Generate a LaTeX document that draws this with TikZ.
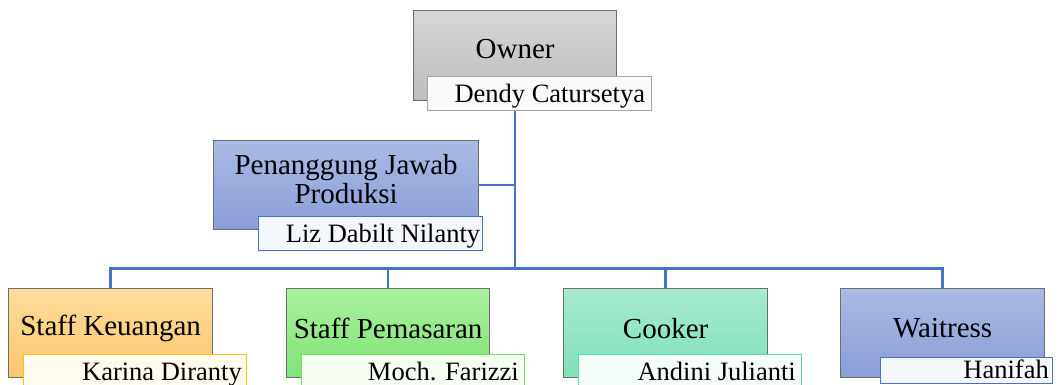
\documentclass[tikz,border=0pt]{standalone}
\usepackage{fontspec}
\setmainfont{Liberation Serif}
\usetikzlibrary{calc}
\definecolor{lineblue}{HTML}{4472C4}
\definecolor{boxborder}{HTML}{6E6E6E}
\definecolor{grayT}{HTML}{D6D6D6}\definecolor{grayB}{HTML}{BDBDBD}
\definecolor{blueT}{HTML}{ABBAE3}\definecolor{blueB}{HTML}{8A9ED8}
\definecolor{orT}{HTML}{FFDC9C}\definecolor{orB}{HTML}{FCC76C}
\definecolor{grT}{HTML}{A9F29E}\definecolor{grB}{HTML}{80E275}
\definecolor{tqT}{HTML}{A7EBCF}\definecolor{tqB}{HTML}{7FE0B8}
\definecolor{nmGray}{HTML}{A6A6A6}
\definecolor{nmOr}{HTML}{FFC20E}
\definecolor{nmGr}{HTML}{62E84E}
\definecolor{nmTq}{HTML}{55DCA4}
\tikzset{
  rolebox/.style={draw=boxborder, line width=1.3pt, rectangle, anchor=north west, inner sep=0pt},
  roletext/.style={font=\fontsize{29}{29}\selectfont, align=center, inner sep=0pt},
  namebox/.style={draw=#1, line width=1.3pt, fill=white!94!#1, rectangle, anchor=north west,
     inner sep=0pt, font=\fontsize{26.5}{28}\selectfont, text depth=0pt},
  nametext/.style={anchor=base east, inner sep=0pt, font=\fontsize{26.5}{28}\selectfont},
  conn/.style={draw=lineblue, line width=2.6pt}
}
\begin{document}
\begin{tikzpicture}[x=1pt,y=-1pt]
\useasboundingbox[fill=white] (0,0) rectangle (1058,385);
% role boxes
\node[rolebox, top color=grayT, bottom color=grayB, minimum width=203pt, minimum height=90pt] (owner) at (413,10) {};
\node[rolebox, top color=blueT, bottom color=blueB, minimum width=265pt, minimum height=89pt] (pj) at (213,140) {};
\node[rolebox, top color=orT, bottom color=orB, minimum width=204pt, minimum height=89pt] (keu) at (8,288) {};
\node[rolebox, top color=grT, bottom color=grB, minimum width=203pt, minimum height=89pt] (pem) at (286,288) {};
\node[rolebox, top color=tqT, bottom color=tqB, minimum width=204pt, minimum height=89pt] (cook) at (563,288) {};
\node[rolebox, top color=blueT, bottom color=blueB, minimum width=204pt, minimum height=89pt] (wait) at (840,288) {};
% role texts
\node[roletext] (ownerT) at ($(owner.center)+(0,-7)$) {Owner};
\node[roletext] (pjT) at ($(pj.center)+(0,-6)$) {Penanggung Jawab\\Produksi};
\node[roletext] (keuT) at ($(keu.center)+(0,-5)$) {Staff Keuangan};
\node[roletext] (pemT) at ($(pem.center)+(0,-5)$) {Staff Pemasaran};
\node[roletext] (cookT) at ($(cook.center)+(0,-5)$) {Cooker};
\node[roletext] (waitT) at ($(wait.center)+(0,-5)$) {Waitress};
% connectors
\coordinate (bus) at ($(owner.south)+(0,167)$);
\draw[conn] (owner.south) -- (bus);
\draw[conn] (pj.east) -- (pj.east -| owner.south);
\draw[conn] (keu.north) |- (bus);
\draw[conn] (pem.north) |- (bus);
\draw[conn] (cook.north) |- (bus);
\draw[conn] (wait.north) |- (bus);
% name boxes
\node[namebox=nmGray, minimum width=224pt, minimum height=34pt] (ownerN) at (427,76) {};
\node[namebox=lineblue, minimum width=224pt, minimum height=34pt] (pjN) at (258,216) {};
\node[namebox=nmOr, minimum width=223pt, minimum height=36pt] (keuN) at (23,354) {};
\node[namebox=nmGr, minimum width=223pt, minimum height=36pt] (pemN) at (301,354) {};
\node[namebox=nmTq, minimum width=223pt, minimum height=36pt] (cookN) at (578,354) {};
\node[namebox=lineblue, minimum width=172pt, minimum height=26pt] (waitN) at (880,357) {};
% name texts
\node[nametext] (ownerNT) at ($(ownerN.east)+(-7,9)$) {Dendy Catursetya};
\node[nametext] (pjNT) at ($(pjN.east)+(-3,9)$) {Liz Dabilt Nilanty};
\node[nametext] (keuNT) at (242,380) {Karina Diranty};
\node[nametext] (pemNT) at (519,380) {Moch. Farizzi};
\node[nametext] (cookNT) at (796,380) {Andini Julianti};
\node[nametext] (waitNT) at (1049,378) {Hanifah};
\end{tikzpicture}
\end{document}
